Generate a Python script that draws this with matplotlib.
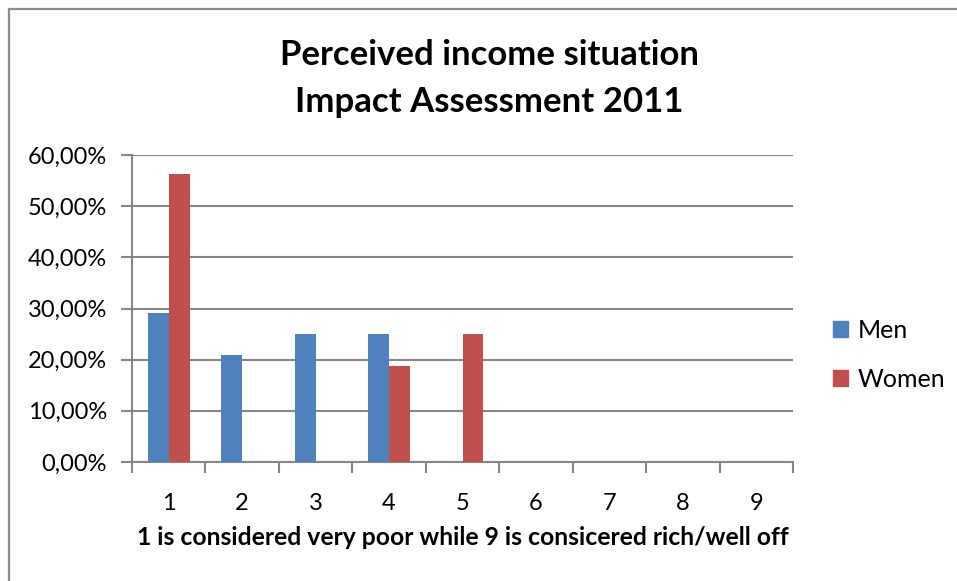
import matplotlib
matplotlib.use("Agg")
import matplotlib.pyplot as plt
from matplotlib.patches import Rectangle, Patch
from matplotlib.ticker import FuncFormatter, MultipleLocator
import numpy as np

categories = ["1", "2", "3", "4", "5", "6", "7", "8", "9"]
men = [29.17, 20.83, 25.00, 25.00, 0, 0, 0, 0, 0]
women = [56.25, 0, 0, 18.75, 25.00, 0, 0, 0, 0]
series_names = ["Men", "Women"]
title_lines = ["Perceived income situation", "Impact Assessment 2011"]
x_label = "1 is considered very poor while 9 is consicered rich/well off"

plt.rcParams["font.family"] = ["Lato", "DejaVu Sans"]

W, H = 957, 581
fig = plt.figure(figsize=(W / 100, H / 100), dpi=100)
fig.patch.set_facecolor("white")

# outer chart frame
fig.add_artist(Rectangle((9 / W, -0.05), 1.1, 1 - 9 / H + 0.05, transform=fig.transFigure,
                         fill=False, edgecolor="#8c8c8c", linewidth=1.6))

ax = fig.add_axes([132 / W, 1 - 462 / H, (793 - 132) / W, (462 - 155) / H])
grey = "#868686"
x = np.arange(len(categories))
bw = 1 / 3.5
ax.bar(x - bw / 2, men, width=bw, color="#4F81BD", label=series_names[0], zorder=3)
ax.bar(x + bw / 2, women, width=bw, color="#C0504D", label=series_names[1], zorder=3)

ax.set_xlim(-0.5, len(categories) - 0.5)
ax.set_ylim(0, 60)
ax.yaxis.set_major_locator(MultipleLocator(10))
ax.yaxis.set_major_formatter(FuncFormatter(lambda v, p: f"{v:.2f}%".replace(".", ",")))
ax.grid(axis="y", color=grey, linewidth=1.5, zorder=0)
ax.set_axisbelow(True)

ax.set_xticks(x)
ax.set_xticklabels(categories)
ax.set_xticks(np.arange(-0.5, len(categories)), minor=True)
ax.tick_params(axis="x", which="major", length=0, pad=22, labelsize=17, labelcolor="#000000")
ax.tick_params(axis="x", which="minor", length=8, width=1.5, color=grey)
ax.tick_params(axis="y", length=8, width=1.5, color=grey, labelsize=17, pad=10)

for s in ["top", "right"]:
    ax.spines[s].set_visible(False)
for s in ["left", "bottom"]:
    ax.spines[s].set_color(grey)
    ax.spines[s].set_linewidth(1.5)

ax.set_xlabel(x_label, fontsize=17.8, fontweight="bold", labelpad=9)

fig.text(489 / W, 1 - 55 / H, title_lines[0], ha="center", va="center",
         fontsize=25, fontweight="bold")
fig.text(489 / W, 1 - 102 / H, title_lines[1], ha="center", va="center",
         fontsize=25, fontweight="bold")

handles = [Patch(color="#4F81BD"), Patch(color="#C0504D")]
fig.legend(handles, series_names, loc="center left", bbox_to_anchor=(810 / W, 1 - 355 / H),
           frameon=False, fontsize=18, handlelength=0.62, handleheight=0.62,
           handletextpad=0.4, labelspacing=1.05)

fig.savefig("out.png", dpi=100, facecolor="white")
